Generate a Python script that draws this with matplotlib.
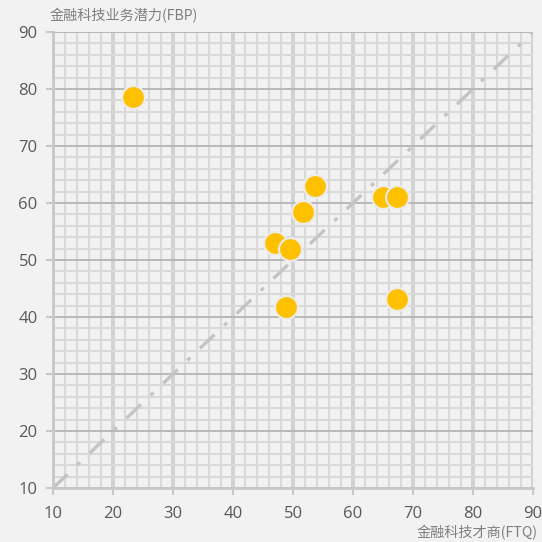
import matplotlib
matplotlib.use("Agg")
import matplotlib.pyplot as plt
import numpy as np

ftq = [23.3, 53.7, 51.7, 65.0, 67.3, 47.0, 49.5, 48.8, 67.3]
fbp = [78.6, 63.0, 58.5, 61.0, 61.0, 53.0, 51.9, 41.8, 43.2]
ticks = [10, 20, 30, 40, 50, 60, 70, 80, 90]
xlabel = "金融科技才商(FTQ)"
ylabel = "金融科技业务潜力(FBP)"

plt.rcParams['font.family'] = ['Open Sans', 'Noto Sans CJK SC', 'DejaVu Sans']
bg = '#f2f2f2'
fig = plt.figure(figsize=(5.42, 5.42), dpi=100, facecolor=bg)
ax = fig.add_axes([0.0978, 0.0996, 0.8856, 0.8414], facecolor=bg)
ax.set_xlim(10, 90)
ax.set_ylim(10, 90)

minor = np.arange(10, 91, 2)
ax.set_xticks(minor, minor=True)
ax.set_yticks(minor, minor=True)
ax.set_xticks(ticks)
ax.set_yticks(ticks)
ax.grid(which='minor', color='#d9d9d9', linewidth=1.5, zorder=0)
ax.xaxis.grid(True, which='major', color='#d2d2d2', linewidth=2.8, zorder=0)
ax.yaxis.grid(True, which='major', color='#b8b8b8', linewidth=1.4, zorder=0)
ax.set_axisbelow(True)

ax.plot([10, 90], [10, 90], color='#c4c4c4', linewidth=2.4,
        dashes=[6, 4, 1.2, 4], zorder=1)

ax.scatter(ftq, fbp, s=270, color='#FFC000', edgecolor='#ececec', linewidth=1.5, zorder=3)

for side in ['top', 'right']:
    ax.spines[side].set_visible(False)
for side in ['left', 'bottom']:
    ax.spines[side].set_color('#c8c8c8')
    ax.spines[side].set_linewidth(2)

ax.tick_params(axis='both', which='major', colors='#595959', labelsize=12,
               length=5, width=1.5, color='#c8c8c8')
ax.tick_params(axis='y', which='major', pad=6)
ax.tick_params(axis='x', which='major', pad=8)
ax.tick_params(which='minor', length=0)

fig.text(50 / 542, 1 - 16 / 542, ylabel, fontsize=10.2, color='#7f7f7f',
         ha='left', va='center', family=['Noto Sans CJK SC', 'DejaVu Sans'])
fig.text(538 / 542, 1 - 533 / 542, xlabel, fontsize=10.2, color='#7f7f7f',
         ha='right', va='center', family=['Noto Sans CJK SC', 'DejaVu Sans'])

fig.savefig('out.png', dpi=100, facecolor=bg)
